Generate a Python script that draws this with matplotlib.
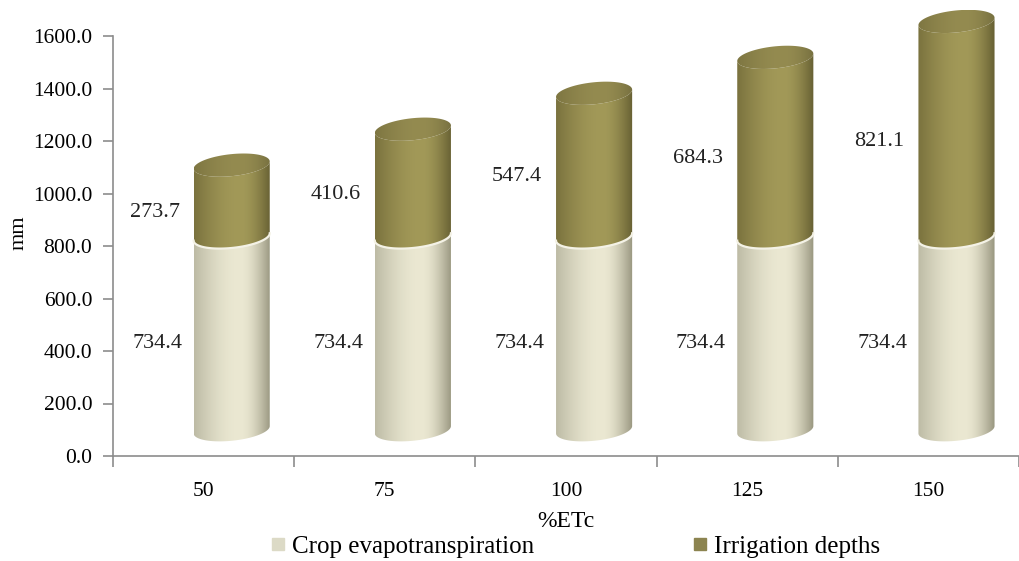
import numpy as np
import matplotlib.pyplot as plt
from matplotlib.patches import Polygon
from matplotlib.colors import to_rgb
from matplotlib.lines import Line2D

categories = ['50', '75', '100', '125', '150']
crop_et = [734.4, 734.4, 734.4, 734.4, 734.4]
irrigation = [273.7, 410.6, 547.4, 684.3, 821.1]

plt.rcParams['font.family'] = ['Liberation Serif', 'DejaVu Serif']

cream = ['#bdbba5', '#ebe8d2', '#98967f']
olive = ['#7a723e', '#a29958', '#676033']
olive_top = ['#7e7642', '#948b50', '#777040']

fig = plt.figure(figsize=(10.19, 5.61), dpi=100)
ax = fig.add_axes([113/1019, 105/561, 906/1019, 420*1700/1600/561])
xmax = -0.5 + 906/183.7

# cylinder look
a = 0.21      # half width (category units)
b = 42        # half height of ellipse (mm)
k = 14        # tilt of ellipse
lift = 100    # 3D lift of the cylinders
dx = 0.155    # 3D shift to the right


def grad(cols, n=200):
    t = np.linspace(0, 1, n)
    c = np.array([to_rgb(x) for x in cols])
    s = np.where(t < 0.6, np.sin(t / 0.6 * np.pi / 2), np.cos((t - 0.6) / 0.4 * np.pi / 2))
    left = t < 0.6
    out = np.zeros((n, 3))
    out[left] = c[0] + (c[1] - c[0]) * s[left, None]
    out[~left] = c[2] + (c[1] - c[2]) * s[~left, None]
    return out[None, :, :]


def arc(cx, cy, th):
    return np.column_stack([cx + a * np.cos(th), cy + k * np.cos(th) - b * np.sin(th)])


def shaded(poly_xy, cols, cx, ylo, yhi, z):
    p = Polygon(poly_xy, closed=True, facecolor='none', edgecolor='none', zorder=z)
    ax.add_patch(p)
    im = ax.imshow(grad(cols), extent=[cx - a, cx + a, ylo - b - k, yhi + b + k],
                   aspect='auto', zorder=z, interpolation='bilinear')
    im.set_clip_path(p)


def body(cx, ylo, yhi, cols, z):
    lo = arc(cx, ylo, np.linspace(np.pi, 0, 80))
    hi = arc(cx, yhi, np.linspace(0, np.pi, 80))
    shaded(np.vstack([lo, hi]), cols, cx, ylo, yhi, z)


for i in range(len(categories)):
    cx = i + dx
    y0 = lift
    y1 = lift + crop_et[i]
    y2 = y1 + irrigation[i]
    body(cx, y0, y1, cream, 2)
    body(cx, y1, y2, olive, 3)
    th = np.linspace(0, 2 * np.pi, 160)
    top = np.column_stack([cx + a * np.cos(th), y2 + k * np.cos(th) + b * np.sin(th)])
    shaded(top, olive_top, cx, y2, y2, 4)
    edge = arc(cx, y1, np.linspace(0, np.pi, 80))
    ax.plot(edge[:, 0], edge[:, 1], color='#f4f2e6', lw=1.6, zorder=5)
    ax.text(i - 0.255, crop_et[i] / 2 + 60, f'{crop_et[i]:.1f}', ha='center', va='center',
            fontsize=16, color='#222222', zorder=6)
    ax.text(i - 0.27, crop_et[i] + irrigation[i] / 2 + 55, f'{irrigation[i]:.1f}',
            ha='center', va='center', fontsize=16, color='#222222', zorder=6)

ax.set_xlim(-0.5, xmax)
ax.set_ylim(0, 1700)

for s in ['top', 'right']:
    ax.spines[s].set_visible(False)
for s in ['left', 'bottom']:
    ax.spines[s].set_color('#8c8c8c')
    ax.spines[s].set_linewidth(1.2)
ax.spines['left'].set_bounds(0, 1600)

ax.set_yticks(np.arange(0, 1601, 200))
ax.set_yticklabels([f'{v:.1f}' for v in np.arange(0, 1601, 200)], fontsize=15.5)
ax.tick_params(axis='y', direction='out', length=7, width=1.2, color='#8c8c8c', pad=8)

ax.set_xticks(np.arange(-0.5, 4.6, 1.0))
ax.set_xticklabels([])
ax.set_xticks(np.arange(len(categories)), minor=True)
ax.set_xticklabels(categories, minor=True, fontsize=15.5)
ax.tick_params(axis='x', which='major', direction='out', length=8, width=1.2, color='#8c8c8c')
ax.tick_params(axis='x', which='minor', length=0, pad=19)

ax.set_xlabel('%ETc', fontsize=17, labelpad=7)
ax.set_ylabel('mm', fontsize=16, labelpad=3)

h1 = Line2D([], [], marker='s', ls='none', markersize=8, color='#dcdac6')
h2 = Line2D([], [], marker='s', ls='none', markersize=8, color='#8c8450')
for h, lab, x in [(h1, 'Crop evapotranspiration', 270.5), (h2, 'Irrigation depths', 692.5)]:
    fig.legend([h], [lab], loc='center left', bbox_to_anchor=(x / 1019, 0.025),
               frameon=False, fontsize=18, borderpad=0, borderaxespad=0,
               handletextpad=0.26, handlelength=0.6)

fig.savefig('out.png', dpi=100)
